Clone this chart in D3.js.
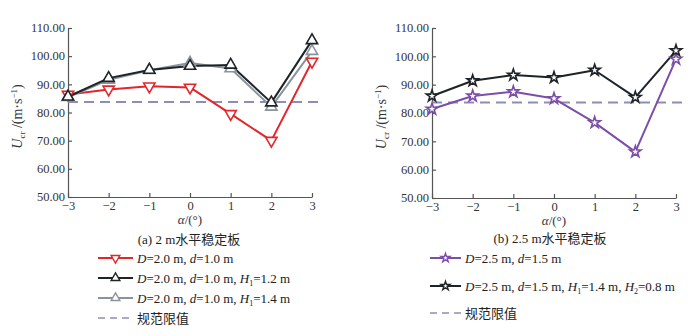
<!DOCTYPE html>
<html><head><meta charset="utf-8">
<script src="https://cdn.jsdelivr.net/npm/d3@7"></script>
<style>
body{margin:0;background:#fff;}
svg{font-family:"Liberation Serif","Times New Roman","Noto Sans CJK SC",serif;}
</style></head>
<body><svg id="c" width="700" height="336"></svg>
<script>
const angles = [-3,-2,-1,0,1,2,3];
const yTicks = [50,60,70,80,90,100,110];
const limitValue = 83.7;
// (a) 2 m horizontal stabilizer
const a_red = [86.4, 88.2, 89.3, 88.9, 79.5, 70.0, 98.1];
const a_black = [85.6, 92.2, 95.1, 96.5, 96.9, 83.5, 105.6];
const a_gray = [85.4, 91.6, 95.0, 97.6, 95.6, 82.0, 101.8];
// (b) 2.5 m horizontal stabilizer
const b_purple = [81.4, 86.0, 87.5, 85.1, 76.6, 66.3, 99.0];
const b_black = [86.0, 91.4, 93.4, 92.5, 95.1, 85.5, 102.0];

const svg = d3.select("#c");
const serif = '"Liberation Serif","Times New Roman",serif';
const cjk = '"Noto Sans CJK SC",sans-serif';

function panel(opt){
  const x = d3.scaleLinear().domain([-3,3]).range([opt.x0, opt.x1]);
  const y = d3.scaleLinear().domain([50,110]).range([opt.y0, opt.y1]);
  const g = svg.append("g");
  const ax = g.append("g").attr("transform",`translate(0,${opt.y0})`)
    .call(d3.axisBottom(x).tickValues(angles).tickSizeInner(-4).tickSizeOuter(0).tickPadding(4)
      .tickFormat(d=> d<0 ? "\u2212"+Math.abs(d) : d));
  const ay = g.append("g").attr("transform",`translate(${opt.x0},0)`)
    .call(d3.axisLeft(y).tickValues(yTicks).tickSizeInner(-4).tickSizeOuter(0).tickPadding(3)
      .tickFormat(d3.format(".2f")));
  [ax,ay].forEach(a=>{
    a.selectAll("path,line").attr("stroke","#555").attr("stroke-width",1.2);
    a.selectAll("text").attr("fill","#333").style("font-family",serif).style("font-size","12.5px");
  });
  ay.selectAll("text").attr("dy","0.3em");
  g.append("line").attr("x1",x(-3)).attr("x2",x(3)+opt.dashExt)
    .attr("y1",y(limitValue)).attr("y2",y(limitValue))
    .attr("stroke","#8e8db6").attr("stroke-width",2).attr("stroke-dasharray","10,6");
  const line = d3.line().x((d,i)=>x(angles[i])).y(d=>y(d));
  opt.series.forEach(s=>{
    g.append("path").datum(s.values).attr("d",line).attr("fill","none")
      .attr("stroke",s.color).attr("stroke-width",2).attr("stroke-linejoin","round");
  });
  opt.series.forEach(s=>{
    g.selectAll(null).data(s.values).enter().append("path")
      .attr("transform",(d,i)=>`translate(${x(angles[i])},${y(d)})${s.rot?` rotate(${s.rot})`:""}`)
      .attr("d",d3.symbol().type(s.symbol).size(s.size))
      .attr("fill","#fff").attr("stroke",s.color).attr("stroke-width",1.6);
  });
  const cx = (opt.x0+opt.x1)/2;
  g.append("text").attr("x",cx).attr("y",opt.y0+27).attr("text-anchor","middle")
    .style("font-family",serif).style("font-size","13px").attr("fill","#333")
    .html('<tspan font-style="italic">α</tspan>/(°)');
  const yl = g.append("text").attr("transform",`translate(${opt.x0-46},${(opt.y0+opt.y1)/2+4}) rotate(-90)`)
    .attr("text-anchor","middle").style("font-family",serif).style("font-size","14px").attr("fill","#333");
  yl.append("tspan").attr("font-style","italic").text("U");
  yl.append("tspan").attr("font-size","9px").attr("dy",3).text("cr");
  yl.append("tspan").attr("dy",-3).text(" /(m·s");
  yl.append("tspan").attr("font-size","9px").attr("dy",-5).text("\u22121");
  yl.append("tspan").attr("dy",5).text(")");
  const cap = g.append("text").attr("x",opt.capX).attr("y",opt.capY).attr("text-anchor","middle")
    .style("font-size","13px").attr("fill","#222");
  cap.append("tspan").style("font-family",serif).text(opt.capPre);
  cap.append("tspan").style("font-family",cjk).text("水平稳定板");
  opt.legend.forEach(l=>{
    const lg = g.append("g").attr("transform",`translate(${opt.legX},${l.y})`);
    if(l.dash){
      lg.append("line").attr("x1",0).attr("x2",opt.legW).attr("stroke","#8e8db6")
        .attr("stroke-width",1.6).attr("stroke-dasharray","7,5");
    } else {
      lg.append("line").attr("x1",0).attr("x2",opt.legW).attr("stroke",l.s.color).attr("stroke-width",2);
      lg.append("path").attr("transform",`translate(${opt.legW/2},0)${l.s.rot?` rotate(${l.s.rot})`:""}`)
        .attr("d",d3.symbol().type(l.s.symbol).size(l.s.size*0.6))
        .attr("fill","#fff").attr("stroke",l.s.color).attr("stroke-width",1.4);
    }
    const t = lg.append("text").attr("x",opt.legW+4).attr("y",5).style("font-size","13px").attr("fill","#222");
    l.parts.forEach(p=>{
      const ts = t.append("tspan").text(p[0]);
      if(p[1]==="i") ts.attr("font-style","italic").style("font-family",serif);
      else if(p[1]==="sub") ts.attr("font-size","8px").attr("dy",3).style("font-family",serif);
      else if(p[1]==="up") ts.attr("dy",-3).style("font-family",serif);
      else if(p[1]==="cjk") ts.style("font-family",cjk);
      else ts.style("font-family",serif);
    });
  });
}

const sRed = {values:a_red,color:"#e2262b",symbol:d3.symbolTriangle,size:55,rot:180};
const sBlk = {values:a_black,color:"#1e2328",symbol:d3.symbolTriangle,size:55};
const sGry = {values:a_gray,color:"#8b949b",symbol:d3.symbolTriangle,size:55};
const sPur = {values:b_purple,color:"#7b4ea9",symbol:d3.symbolStar,size:40};
const sBlk2 = {values:b_black,color:"#1e2328",symbol:d3.symbolStar,size:40};

panel({x0:68,x1:312,y0:197,y1:28,dashExt:8,series:[sRed,sGry,sBlk],
  capX:189,capY:244,capPre:"(a) 2 m",legX:98,legW:35,
  legend:[
    {y:258,s:sRed,parts:[["D","i"],["=2.0 m, "],["d","i"],["=1.0 m"]]},
    {y:278,s:sBlk,parts:[["D","i"],["=2.0 m, "],["d","i"],["=1.0 m, "],["H","i"],["1","sub"],["=1.2 m","up"]]},
    {y:298,s:sGry,parts:[["D","i"],["=2.0 m, "],["d","i"],["=1.0 m, "],["H","i"],["1","sub"],["=1.4 m","up"]]},
    {y:318,dash:true,parts:[["规范限值","cjk"]]}
  ]});
panel({x0:432,x1:676,y0:198,y1:28,dashExt:9,series:[sPur,sBlk2],
  capX:550,capY:243,capPre:"(b) 2.5 m",legX:430,legW:31,
  legend:[
    {y:258,s:sPur,parts:[["D","i"],["=2.5 m, "],["d","i"],["=1.5 m"]]},
    {y:286,s:sBlk2,parts:[["D","i"],["=2.5 m, "],["d","i"],["=1.5 m, "],["H","i"],["1","sub"],["=1.4 m, ","up"],["H","i"],["2","sub"],["=0.8 m","up"]]},
    {y:313,dash:true,parts:[["规范限值","cjk"]]}
  ]});
</script></body></html>
